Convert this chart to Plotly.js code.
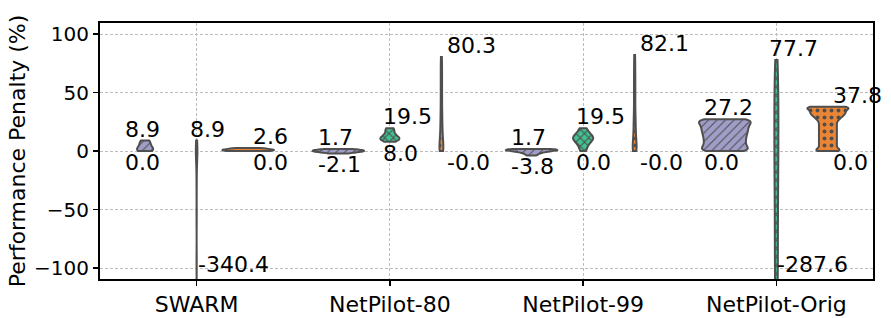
<!DOCTYPE html>
<html><head><meta charset="utf-8">
<script src="https://cdn.plot.ly/plotly-3.0.1.min.js"></script>
<style>html,body{margin:0;padding:0;background:#fff}#chart{width:891px;height:318px}</style>
</head><body><div id="chart"></div>
<script>
// ---- data ----
const categories = ['SWARM', 'NetPilot-80', 'NetPilot-99', 'NetPilot-Orig'];
const yTicks = [-100, -50, 0, 50, 100];

// series 1 (purple, "/" hatch)
const purpleSwarm = [0, 0, 0.3, 0.7, 1.2, 1.8, 2.6, 3.6, 5.0, 6.5, 7.8, 8.6, 8.9];
const purpleNP80  = [-2.1, -1.5, -1.0, -0.6, -0.3, 0, 0.2, 0.4, 0.7, 1.0, 1.3, 1.7];
const purpleNP99  = [-3.8, -2.6, -1.7, -1.0, -0.5, -0.1, 0.2, 0.5, 0.8, 1.0, 1.2, 1.4, 1.55, 1.7];
const purpleOrig  = [0, 0, 0.3, 1, 2, 3, 4, 5, 6, 7, 8, 9, 10, 11, 12, 12.95, 13.9, 14.85, 15.8, 16.7, 17.6, 18.5, 19.4, 20.3, 21.2, 22.05, 22.9, 23.75, 24.6, 25.45, 26.3, 26.9, 27.2, 27.2];
// series 2 (green, "x" hatch)
const greenSwarm = [-340.4, -180, -95, -55, -30, -15, -7, -3, -1, 0, 0.5, 1, 2, 4, 8.9];
const greenNP80  = [8.0, 8.6, 9.2, 9.8, 10.3, 10.8, 11.3, 11.9, 12.6, 13.5, 14.6, 16.0, 17.5, 19.0, 19.5];
const greenNP99  = [0, 3, 5.5, 7.3, 8.7, 9.8, 10.7, 11.5, 12.4, 13.5, 15, 17, 19.5];
const greenOrig  = [-287.6, -250, -215, -185, -160, -138, -118, -100, -84, -68, -52, -37, -23, -10, 2, 14, 26, 38, 50, 62, 77.7];
// series 3 (orange, "o" hatch)
const orangeSwarm = [0, 0.1, 0.3, 0.5, 0.8, 1.1, 1.4, 1.8, 2.2, 2.6];
const orangeNP80  = [-0.02, 0, 0.5, 1.5, 3, 5, 7.5, 10, 13, 16, 20, 24, 28, 33, 38, 44, 50, 56, 62, 68, 74, 80.3];
const orangeNP99  = [-0.02, 0, 0.5, 1.5, 3, 5, 7.5, 10, 13, 16, 20, 24, 27, 32, 38, 44, 50, 56, 62, 68, 75, 82.1];
const orangeOrig  = [0, 0, 0.2, 1, 2, 3, 4, 5, 6, 7, 8, 9, 10, 11, 12, 13, 14, 15, 16, 17, 18, 19, 20, 21, 22, 23, 24, 25, 26,
                     26.8, 27.6, 28.3, 29.0, 29.6, 30.2, 30.8, 31.3, 31.8, 32.3, 32.8, 33.3, 33.8, 34.3, 34.8, 35.3, 35.8,
                     36.3, 36.8, 37.3, 37.5, 37.7, 37.8, 37.8];

const seriesData = [
  [purpleSwarm, purpleNP80, purpleNP99, purpleOrig],
  [greenSwarm, greenNP80, greenNP99, greenOrig],
  [orangeSwarm, orangeNP80, orangeNP99, orangeOrig]
];

// ---- styles ----
const hueKeys = ['purple', 'green', 'orange'];
const fillColors = ['#a09ec9', '#3ec391', '#ec8533'];
const edgeColor = '#4f4f4f';
const groupWidth = 0.8;
const slot = groupWidth / 3;
// violin widths (data units) per hue per category
const violinWidths = [
  [0.083, slot, slot, slot],
  [0.008, 0.098, 0.104, 0.021],
  [slot, 0.02, 0.02, 0.212]
];
const bandwidths = [
  [2.5, 0.9, 0.8, 2.5],
  [8, 1.8, 2.5, 20],
  [0.8, 6, 6, 1.5]
];
const labelDx = [-0.378, -0.041, 0.288];
const yRange = [-109.4, 109.4];
const FONT = 'DejaVu Sans, Liberation Sans, sans-serif';

const traces = [];
const annotations = [];
for (let h = 0; h < 3; h++) {
  for (let c = 0; c < categories.length; c++) {
    const vals = seriesData[h][c];
    traces.push({
      type: 'violin', x0: c + (h - 1) * slot, y: vals,
      width: violinWidths[h][c], spanmode: 'hard', bandwidth: bandwidths[h][c],
      points: false, box: {visible: false}, meanline: {visible: false},
      fillcolor: fillColors[h], line: {color: edgeColor, width: 2},
      hoverinfo: 'skip', side: 'both', scalemode: 'width', meta: hueKeys[h], name: hueKeys[h]
    });
    const mx = Math.max(...vals), mn = Math.min(...vals);
    annotations.push({x: c + labelDx[h], y: mx, xanchor: 'left', yanchor: 'bottom', text: mx.toFixed(1),
      showarrow: false, font: {size: 22, family: FONT, color: '#000'}, yshift: -2, borderpad: 0});
    if (mn < yRange[0]) {
      annotations.push({x: c, y: 0, yref: 'paper', xanchor: 'left', yanchor: 'bottom', text: mn.toFixed(1),
        showarrow: false, font: {size: 22, family: FONT, color: '#000'}, yshift: 1, borderpad: 0});
    } else {
      annotations.push({x: c + labelDx[h], y: mn, xanchor: 'left', yanchor: 'top', text: mn.toFixed(1),
        showarrow: false, font: {size: 22, family: FONT, color: '#000'}, yshift: 2, borderpad: 0});
    }
  }
}

const layout = {
  width: 891, height: 318,
  margin: {l: 100, r: 18, t: 23, b: 39, pad: 0},
  paper_bgcolor: '#fff', plot_bgcolor: '#fff',
  showlegend: false,
  font: {family: FONT, color: '#000'},
  xaxis: {type: 'linear', range: [-0.5, 3.5], tickvals: categories.map((_, i) => i), ticktext: categories,
    showgrid: true, gridcolor: '#bdbdbd', griddash: '3px,2px', gridwidth: 1, zeroline: false,
    showline: true, mirror: true, linecolor: '#000', linewidth: 2,
    ticks: 'outside', ticklen: 5, tickwidth: 1.5, tickcolor: '#000', tickfont: {size: 22, family: FONT, color: '#000'}},
  yaxis: {range: yRange, tickvals: yTicks, showgrid: true, gridcolor: '#bdbdbd', griddash: '3px,2px', gridwidth: 1,
    zeroline: false, showline: true, mirror: true, linecolor: '#000', linewidth: 2,
    ticks: 'outside', ticklen: 5, tickwidth: 1.5, tickcolor: '#000', tickfont: {size: 20, family: FONT, color: '#000'},
    title: {text: 'Performance Penalty (%)', font: {size: 22, family: FONT, color: '#000'}, standoff: 2}},
  annotations: annotations
};

const gd = document.getElementById('chart');
Plotly.newPlot(gd, traces, layout, {staticPlot: true, displayModeBar: false}).then(() => {
  const ns = 'http://www.w3.org/2000/svg';
  const svg = gd.querySelector('svg.main-svg');
  let defs = svg.querySelector('defs');
  function el(tag, attrs, parent) {
    const e = document.createElementNS(ns, tag);
    for (const k in attrs) e.setAttribute(k, attrs[k]);
    if (parent) parent.appendChild(e);
    return e;
  }
  function pattern(id, s, bg) {
    const p = el('pattern', {id: id, patternUnits: 'userSpaceOnUse', width: s, height: s}, defs);
    el('rect', {x: 0, y: 0, width: s, height: s, fill: bg}, p);
    return p;
  }
  const s = 8.5;
  const pp = pattern('hatch-purple', s, fillColors[0]);
  el('path', {d: `M0,${s} L${s},0 M${-s/4},${s/4} L${s/4},${-s/4} M${3*s/4},${5*s/4} L${5*s/4},${3*s/4}`,
    stroke: edgeColor, 'stroke-width': 1.1, fill: 'none'}, pp);
  const pg = pattern('hatch-green', s, fillColors[1]);
  el('path', {d: `M0,${s} L${s},0 M${-s/4},${s/4} L${s/4},${-s/4} M${3*s/4},${5*s/4} L${5*s/4},${3*s/4} M0,0 L${s},${s} M${-s/4},${3*s/4} L${s/4},${5*s/4} M${3*s/4},${-s/4} L${5*s/4},${s/4}`,
    stroke: edgeColor, 'stroke-width': 1.1, fill: 'none'}, pg);
  const d = 7;
  const po = pattern('hatch-orange', d, fillColors[2]);
  el('circle', {cx: d/2, cy: d/2, r: 2.0, fill: edgeColor}, po);
  gd.querySelectorAll('.violinlayer .trace').forEach((g, i) => {
    let key = hueKeys[Math.floor(i / categories.length)];
    const dd = g.__data__;
    if (dd && dd[0] && dd[0].trace && dd[0].trace.meta) key = dd[0].trace.meta;
    g.querySelectorAll('path.violin').forEach(p => { p.style.fill = `url(#hatch-${key})`; });
  });
});
</script>
</body></html>
